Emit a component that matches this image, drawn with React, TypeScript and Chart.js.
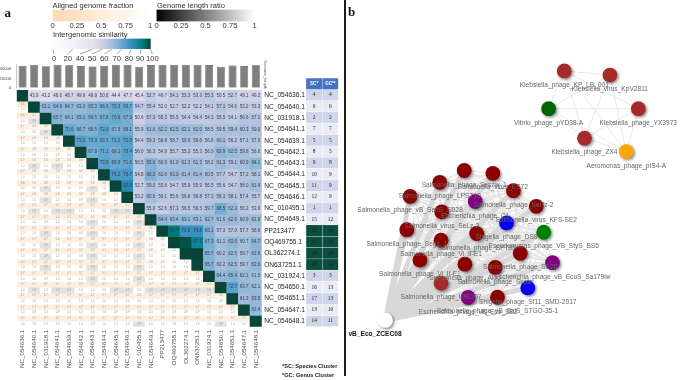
import React, { useEffect, useRef } from "react";
import { Chart, registerables } from "chart.js";

Chart.register(...registerables);

// ---------- DATA ----------
const genomeLabels = ["NC_054636.1","NC_054640.1","NC_031918.1","NC_054641.1","NC_054639.1","NC_054642.1","NC_054643.1","NC_054644.1","NC_054645.1","NC_054646.1","NC_010495.1","NC_054649.1","PP213477","OQ469755.1","OL362274.1","ON637251.1","NC_031924.1","NC_054650.1","NC_054651.1","NC_054647.1","NC_054648.1"];
const rowLabels = genomeLabels;
const genomeLength = [47000,49000,46000,49000,48000,46500,45500,47000,49000,49000,45000,48500,49000,49000,49000,49000,48500,45000,47500,46500,48000];
const speciesCluster = [4,6,2,7,5,8,9,10,11,12,1,15,20,19,18,18,3,16,17,13,14];
const genusCluster = [4,6,2,7,5,5,8,9,9,9,1,12,14,14,14,14,3,13,13,10,11];

// Intergenomic similarity: upper triangle incl. diagonal, one list per row
const similarityRows = [
  [100.0,43.9,43.2,46.6,48.7,49.9,49.9,50.6,44.4,47.7,45.4,52.7,49.7,54.1,53.3,53.3,55.3,50.5,52.7,49.1,49.2],
  [100.0,63.1,64.9,64.7,63.0,65.3,66.6,70.3,69.7,54.7,55.4,52.0,52.7,52.2,52.2,54.1,57.1,54.6,53.2,53.3],
  [100.0,65.7,64.1,65.1,66.5,67.8,70.6,67.9,50.6,57.3,55.3,55.5,54.4,54.4,54.3,55.5,54.1,56.6,57.1],
  [100.0,70.6,66.7,66.5,72.0,67.5,68.1,55.9,61.6,62.3,62.5,62.1,62.0,58.5,59.5,59.4,60.3,59.0],
  [100.0,73.0,70.3,69.5,71.2,72.8,54.4,59.3,58.8,58.7,59.6,59.6,56.8,60.1,56.2,57.1,57.6],
  [100.0,67.8,71.1,68.2,73.4,56.0,56.3,54.9,55.7,55.3,55.3,56.9,63.9,62.5,59.8,56.6],
  [100.0,73.5,69.9,71.6,56.5,65.6,60.9,61.0,61.3,61.3,58.2,61.3,59.1,60.9,64.1],
  [100.0,76.2,76.7,54.8,66.2,61.6,63.0,61.4,61.4,60.5,57.7,54.7,57.2,58.1],
  [100.0,82.8,52.7,59.0,55.6,54.7,55.9,55.9,56.5,55.6,54.7,58.0,61.4],
  [100.0,53.2,60.6,56.1,55.6,56.8,56.8,57.3,58.3,58.1,57.4,55.7],
  [100.0,55.0,52.6,57.3,56.5,56.5,59.7,68.5,62.3,56.2,53.9],
  [100.0,64.4,63.4,63.1,63.1,62.7,61.6,62.6,60.9,61.9],
  [100.0,91.7,79.6,79.6,66.1,57.3,57.0,57.7,58.6],
  [100.0,97.7,87.7,67.3,61.1,63.6,60.7,64.7],
  [100.0,100.0,65.7,60.2,62.5,59.7,63.6],
  [100.0,65.7,60.2,62.5,59.7,63.6],
  [100.0,64.4,65.4,62.1,61.5],
  [100.0,72.7,63.7,62.1],
  [100.0,61.3,63.5],
  [100.0,63.4],
  [100.0],
];

// Aligned genome fraction: lower triangle, rows 2..21
const fractionRows = [
  [0.6],
  [0.6,0.7],
  [0.7,0.8,0.8],
  [0.7,0.8,0.8,0.8],
  [0.7,0.8,0.8,0.8,0.8],
  [0.7,0.8,0.8,0.8,0.8,0.8],
  [0.7,0.8,0.8,0.8,0.8,0.8,0.8],
  [0.6,0.8,0.8,0.8,0.8,0.8,0.8,0.8],
  [0.7,0.8,0.8,0.8,0.8,0.8,0.8,0.8,0.9],
  [0.7,0.7,0.7,0.7,0.7,0.7,0.7,0.7,0.7,0.7],
  [0.7,0.7,0.7,0.8,0.7,0.7,0.8,0.8,0.7,0.7,0.7],
  [0.7,0.7,0.7,0.7,0.7,0.7,0.7,0.7,0.7,0.7,0.7,0.8],
  [0.7,0.7,0.7,0.8,0.7,0.7,0.8,0.7,0.7,0.7,0.7,0.8,0.9],
  [0.7,0.7,0.7,0.7,0.7,0.7,0.7,0.7,0.7,0.7,0.7,0.8,0.9,1.0],
  [0.7,0.7,0.7,0.7,0.7,0.7,0.7,0.7,0.7,0.7,0.7,0.8,0.9,1.0,1.0],
  [0.7,0.7,0.7,0.7,0.7,0.7,0.7,0.7,0.7,0.7,0.7,0.7,0.7,0.7,0.7,0.7],
  [0.7,0.7,0.7,0.7,0.7,0.7,0.7,0.7,0.7,0.7,0.7,0.7,0.7,0.7,0.7,0.7,0.7],
  [0.7,0.7,0.7,0.7,0.7,0.7,0.7,0.7,0.7,0.7,0.7,0.7,0.7,0.7,0.7,0.7,0.7,0.8],
  [0.7,0.7,0.7,0.7,0.7,0.7,0.7,0.7,0.7,0.7,0.7,0.7,0.7,0.7,0.7,0.7,0.7,0.7,0.7],
  [0.7,0.7,0.7,0.7,0.7,0.7,0.7,0.7,0.7,0.7,0.7,0.7,0.7,0.7,0.7,0.7,0.7,0.7,0.7,0.7],
];

// Genome length ratio: lower triangle, rows 2..21
const ratioRows = [
  [.96],
  [.98,.94],
  [.96,1,.94],
  [.98,.98,.96,.98],
  [.99,.95,.99,.95,.97],
  [.97,.93,.99,.93,.95,.98],
  [1,.96,.98,.96,.98,.99,.97],
  [.96,1,.94,1,.98,.95,.93,.96],
  [.96,1,.94,1,.98,.95,.93,.96,1],
  [.96,.92,.98,.92,.94,.97,.99,.96,.92,.92],
  [.97,.99,.95,.99,.99,.96,.94,.97,.99,.99,.93],
  [.96,1,.94,1,.98,.95,.93,.96,1,1,.92,.99],
  [.96,1,.94,1,.98,.95,.93,.96,1,1,.92,.99,1],
  [.96,1,.94,1,.98,.95,.93,.96,1,1,.92,.99,1,1],
  [.96,1,.94,1,.98,.95,.93,.96,1,1,.92,.99,1,1,1],
  [.97,.99,.95,.99,.99,.96,.94,.97,.99,.99,.93,1,.99,.99,.99,.99],
  [.96,.92,.98,.92,.94,.97,.99,.96,.92,.92,1,.93,.92,.92,.92,.92,.93],
  [.99,.97,.97,.97,.99,.98,.96,.99,.97,.97,.95,.98,.97,.97,.97,.97,.98,.95],
  [.99,.95,.99,.95,.97,1,.98,.99,.95,.95,.97,.96,.95,.95,.95,.95,.96,.97,.98],
  [.98,.98,.96,.98,1,.97,.95,.98,.98,.98,.94,.99,.98,.98,.98,.98,.99,.94,.99,.97],
];

const fractionTicks = [0, 0.25, 0.5, 0.75, 1];
const similarityTickLabels = [0, 20, 40, 50, 60, 70, 80, 90, 100];
const lengthTicks = [0, 20000, 40000];

// Network (panel b), node positions read in layout units
const smallNames = ["Klebsiella_phage_KP_LB_001","Klebsiella_virus_KpV2811","Vibrio_phage_pYD38-A","Klebsiella_phage_YX3973","Klebsiella_phage_ZX4","Aeromonas_phage_pIS4-A"];
const smallX = [229.3,276,213.3,305,250,292.7];
const smallY = [66,70.3,105.3,105.3,136,150];
const smallKind = ["k","k","v","k","k","a"];

const bigNames = ["Salmonella_phage_Seszw_1","Salmonella_virus_ES72","Salmonella_phage_LPST10","Salmonella_phage_vB_SenS_SB28","Salmonella_phage_SeHz-2","Salmonella_virus_KFS-SE2","Escherichia_phage_C1","Salmonella_virus_SeLz-2","Shigella_phage_DS8","Pseudomonas_phage_VB_StyS_BS5","Salmonella_phage_Segz_1","Salmonella_phage_Vi_II-E1","Salmonella_phage_BP785","Salmonella_phage_Vi_II-E1","Salmonella_phage_Aloo","Salmonella_phage_SE20","Salmonella_phage_Skate","Escherichia_phage_vB_EcoS_Sa179lw","Salmonella_phage_IME207","Shigella_phage_Sf11_SMD-2017","Salmonella_phage_vB_SalS_STGO-35-1","Escherichia_phage_vB_Eco_SE2"];
const bigX = [127,156.3,102,71.7,177.3,200.7,138.3,104,170.3,208.3,68.3,103.3,139.7,81.7,127.7,184.3,158.7,217.3,103.3,192,161,131];
const bigY = [169.7,172.7,182,196.7,190.7,207,202,212.7,224.3,234,231.3,242.3,235.3,263,267.3,256,270.7,265.7,287,292,301.7,302];
const bigKind = ["s","s","s","s","s","s","p","s","b","g","s","s","s","s","s","s","s","p","k","b","s","p"];

const hubName = "vB_Eco_ZCEC08";
const hubX = 46.3;
const hubY = 325.7;

// ---------- STYLE / LAYOUT ----------
const SANS = "'Liberation Sans', Arial, sans-serif";
const SERIF = "'Liberation Serif', 'Times New Roman', serif";
const W = 685;
const H = 380;
const kindColors: Record<string, string> = { k: "#a52a2a", v: "#006400", a: "#ffa500", s: "#8b0000", p: "#800080", b: "#0000ff", g: "#008000" };

const hex = (h: string) => [1, 3, 5].map((i) => parseInt(h.slice(i, i + 2), 16));
const simStops: [number, string][] = [[0,"#ffffff"],[20,"#f6eff7"],[40,"#e6e0ef"],[50,"#d0d1e6"],[60,"#a9bfdc"],[70,"#67a9cf"],[80,"#3690c0"],[90,"#02818a"],[100,"#014636"]];
function simColor(v: number) {
  for (let i = 1; i < simStops.length; i++) {
    if (v <= simStops[i][0]) {
      const [a, ca] = simStops[i - 1];
      const [b, cb] = simStops[i];
      const t = (v - a) / (b - a);
      const x = hex(ca), y = hex(cb);
      return `rgb(${x.map((q, k) => Math.round(q + (y[k] - q) * t)).join(",")})`;
    }
  }
  return "#014636";
}
const peach = [253, 217, 181];
const afColor = (v: number) => `rgb(${peach.map((q) => Math.round(q + (255 - q) * Math.pow(v, 1.7))).join(",")})`;
const ratioColor = (v: number) => (v <= 0.94 ? "#e2e2e2" : "#ffffff");

// Make a chart area land exactly on a given box: scales take no layout room
// and their labels are allowed to paint outside the (empty) scale box.
const noFit = (s: any) => {
  if (s.isHorizontal()) s.height = 0;
  else s.width = 0;
  s.paddingLeft = s.paddingRight = s.paddingTop = s.paddingBottom = 0;
  s._computeLabelArea = () => undefined;
};
const box = (l: number, t: number, r: number, b: number) => ({ padding: { left: l, top: t, right: W - r, bottom: H - b } });

const heatmapBox = box(16.7, 90, 261.7, 326.7);
const barsBox = box(16.7, 64.4, 261.7, 87.7);
const tableBox = box(306, 78, 338.5, 326.7);
const fractionBox = box(52.5, 9.5, 150, 21.5);
const ratioBox = box(156.5, 9.5, 254.5, 21.5);
const similarityBox = box(53, 38.5, 150.7, 49);
const networkBox = box(340, 0, 685, 380);

const base = {
  responsive: false,
  animation: false as const,
  events: [] as string[],
  plugins: { legend: { display: false }, tooltip: { enabled: false }, title: { display: false } },
};

// ---------- CHART CONFIGS ----------
const n = genomeLabels.length;

function heatmapConfig() {
  const datasets: any[] = [];
  for (let r = 0; r < n; r++) {
    const upper = similarityRows[r];
    datasets.push({
      data: genomeLabels.map((_, c) => (c >= r ? [r, r + 1] : null)),
      backgroundColor: genomeLabels.map((_, c) => (c >= r ? simColor(upper[c - r]) : "#fff")),
    });
    if (r > 0) {
      const af = fractionRows[r - 1];
      const ra = ratioRows[r - 1];
      datasets.push({
        data: genomeLabels.map((_, c) => (c < r ? [r, r + 0.5] : null)),
        backgroundColor: genomeLabels.map((_, c) => (c < r ? afColor(af[c]) : "#fff")),
      });
      datasets.push({
        data: genomeLabels.map((_, c) => (c < r ? [r + 0.5, r + 1] : null)),
        backgroundColor: genomeLabels.map((_, c) => (c < r ? ratioColor(ra[c]) : "#fff")),
      });
    }
  }
  const cellText = {
    id: "cellText",
    afterDatasetsDraw(chart: any) {
      const { ctx, scales } = chart;
      ctx.save();
      ctx.textAlign = "center";
      ctx.textBaseline = "middle";
      for (let r = 0; r < n; r++) {
        ctx.font = `4.5px ${SANS}`;
        ctx.fillStyle = "#3a3a4a";
        similarityRows[r].forEach((v, i) => {
          ctx.fillText(v.toFixed(1), scales.x.getPixelForValue(r + i), scales.y.getPixelForValue(r + 0.5));
        });
        if (r > 0) {
          ctx.font = `2.7px ${SANS}`;
          ctx.fillStyle = "#999";
          fractionRows[r - 1].forEach((v, c) => {
            ctx.fillText(v.toFixed(1), scales.x.getPixelForValue(c), scales.y.getPixelForValue(r + 0.25));
          });
          ratioRows[r - 1].forEach((v, c) => {
            ctx.fillText(v.toFixed(1), scales.x.getPixelForValue(c), scales.y.getPixelForValue(r + 0.75));
          });
        }
      }
      ctx.restore();
    },
  };
  return {
    type: "bar",
    data: { labels: genomeLabels, datasets },
    plugins: [cellText],
    options: {
      ...base,
      layout: heatmapBox,
      datasets: { bar: { grouped: false, barPercentage: 1, categoryPercentage: 1, borderWidth: 0 } },
      scales: {
        x: {
          position: "bottom",
          grid: { display: false, drawTicks: false },
          border: { display: false },
          afterFit: noFit,
          ticks: { autoSkip: false, minRotation: 90, maxRotation: 90, padding: 3, color: "#555", font: { size: 6.2, family: SANS } },
        },
        y: {
          type: "linear",
          position: "right",
          reverse: true,
          min: 0,
          max: n,
          grid: { display: false, drawTicks: false },
          border: { display: false },
          afterFit: noFit,
          afterBuildTicks: (s: any) => { s.ticks = rowLabels.map((_, i) => ({ value: i + 0.5 })); },
          ticks: {
            autoSkip: false,
            padding: 2.5,
            color: "#222",
            font: { size: 6.6, family: SANS },
            callback: (v: number) => rowLabels[Math.round(v - 0.5)],
          },
        },
      },
    },
  };
}

function barsConfig() {
  return {
    type: "bar",
    data: {
      labels: genomeLabels,
      datasets: [{ data: genomeLength, backgroundColor: "#7f7f7f", borderColor: "#4a4a4a", borderWidth: 0.6 }],
    },
    options: {
      ...base,
      layout: barsBox,
      datasets: { bar: { barPercentage: 0.68, categoryPercentage: 1 } },
      scales: {
        x: { display: false, afterFit: noFit },
        y: {
          min: 0,
          max: 50000,
          grid: { display: false, tickLength: 2.5, tickColor: "#777" },
          border: { color: "#888", width: 0.5 },
          afterFit: noFit,
          afterBuildTicks: (s: any) => { s.ticks = lengthTicks.map((value) => ({ value })); },
          ticks: { padding: 3, color: "#444", font: { size: 4.2, family: SANS }, callback: (v: number) => String(v) },
        },
      },
    },
  };
}

function tableConfig() {
  const cols = ["SC*", "GC**"];
  const rowFill = (r: number) => (r % 2 === 0 ? "#cfd5ea" : "#e9ebf5");
  const dark = (r: number) => genusCluster[r] === 14;
  const datasets: any[] = [
    { data: [[-1, 0], [-1, 0]], backgroundColor: "#4472c4" },
    ...speciesCluster.map((_, r) => ({
      data: [[r, r + 1], [r, r + 1]],
      backgroundColor: dark(r) ? "#0b4f3e" : rowFill(r),
    })),
  ];
  const text = {
    id: "tableText",
    afterDatasetsDraw(chart: any) {
      const { ctx, scales } = chart;
      ctx.save();
      ctx.textAlign = "center";
      ctx.textBaseline = "middle";
      cols.forEach((c, i) => {
        ctx.font = `bold 4.6px ${SANS}`;
        ctx.fillStyle = "#fff";
        ctx.fillText(c, scales.x.getPixelForValue(i), scales.y.getPixelForValue(-0.5));
        ctx.font = `5.4px ${SERIF}`;
        ctx.fillStyle = "#222";
        (i === 0 ? speciesCluster : genusCluster).forEach((v, r) => {
          ctx.fillText(String(v), scales.x.getPixelForValue(i), scales.y.getPixelForValue(r + 0.5));
        });
      });
      ctx.restore();
    },
  };
  return {
    type: "bar",
    data: { labels: cols, datasets },
    plugins: [text],
    options: {
      ...base,
      layout: tableBox,
      datasets: { bar: { grouped: false, barPercentage: 1, categoryPercentage: 1, borderWidth: 0.5, borderColor: "#fff" } },
      scales: {
        x: { display: false, afterFit: noFit },
        y: { display: false, type: "linear", reverse: true, min: -1, max: n, afterFit: noFit },
      },
    },
  };
}

function gradientBarConfig(layout: any, stops: [number, string][], ticks: number[] | null, extra: any[] = []) {
  return {
    type: "bar",
    data: {
      labels: [""],
      datasets: [{
        data: [[0, 1]],
        backgroundColor: (c: any) => {
          const a = c.chart.chartArea;
          if (!a) return "#fff";
          const g = c.chart.ctx.createLinearGradient(a.left, 0, a.right, 0);
          stops.forEach(([o, col]) => g.addColorStop(o, col));
          return g;
        },
      }],
    },
    plugins: extra,
    options: {
      ...base,
      indexAxis: "y",
      layout,
      datasets: { bar: { barPercentage: 1, categoryPercentage: 1, borderWidth: 0 } },
      scales: {
        y: { display: false, afterFit: noFit },
        x: {
          type: "linear",
          min: 0,
          max: 1,
          display: !!ticks,
          position: "bottom",
          grid: { display: false, drawTicks: false },
          border: { display: false },
          afterFit: noFit,
          afterBuildTicks: (s: any) => { if (ticks) s.ticks = ticks.map((value) => ({ value })); },
          ticks: { padding: 0, maxRotation: 0, color: "#333", font: { size: 7.6, family: SANS }, callback: (v: number) => String(v) },
        },
      },
    },
  };
}

// Offset of each printed label from its place on the similarity colour bar.
const simLabelOffsets = [1, -4.8, -12, -9.6, -7.3, -4.7, -2.2, -0.9, 1.6];

function similarityConfig() {
  const connectors = {
    id: "simTicks",
    afterDatasetsDraw(chart: any) {
      const { ctx, scales, chartArea } = chart;
      ctx.save();
      ctx.strokeStyle = "#444";
      ctx.lineWidth = 0.5;
      ctx.fillStyle = "#333";
      ctx.font = `7.6px ${SANS}`;
      ctx.textAlign = "center";
      ctx.textBaseline = "middle";
      similarityTickLabels.forEach((t, i) => {
        const bx = scales.x.getPixelForValue(t / 100);
        const lx = bx + simLabelOffsets[i];
        ctx.beginPath();
        ctx.moveTo(bx, chartArea.bottom + 0.5);
        ctx.lineTo(lx, chartArea.bottom + 5);
        ctx.stroke();
        ctx.fillText(String(t), lx, chartArea.bottom + 10);
      });
      ctx.restore();
    },
  };
  const stops = simStops.map(([v, c]) => [v / 100, c] as [number, string]);
  return gradientBarConfig(similarityBox, stops, null, [connectors]);
}

function networkConfig() {
  const pt = (xs: number[], ys: number[], i: number) => ({ x: xs[i], y: ys[i] });
  const smallEdges: any[] = [];
  smallNames.forEach((_, i) => {
    for (let j = i + 1; j < smallNames.length; j++) {
      smallEdges.push(pt(smallX, smallY, i), pt(smallX, smallY, j), { x: NaN, y: NaN });
    }
  });
  const bigEdges: any[] = [];
  bigNames.forEach((_, i) => {
    for (let j = i + 1; j < bigNames.length; j++) {
      bigEdges.push(pt(bigX, bigY, i), pt(bigX, bigY, j), { x: NaN, y: NaN });
    }
  });
  const hubEdges: any[] = [];
  bigNames.forEach((_, i) => {
    hubEdges.push({ x: hubX, y: hubY }, pt(bigX, bigY, i), { x: NaN, y: NaN });
  });
  const line = (data: any[], color: string, w: number) => ({ type: "line", data, borderColor: color, borderWidth: w, pointRadius: 0, spanGaps: false, fill: false, tension: 0 });
  const nodes = (xs: number[], ys: number[], kinds: string[]) => ({
    type: "scatter",
    nodeLayer: true,
    data: xs.map((_, i) => pt(xs, ys, i)),
    backgroundColor: kinds.map((k) => kindColors[k]),
    pointRadius: 7.4,
    borderWidth: 0,
  });
  const nodeShadow = {
    id: "nodeShadow",
    beforeDatasetDraw(chart: any, args: any) {
      if (chart.data.datasets[args.index].nodeLayer) {
        const { ctx } = chart;
        ctx.save();
        ctx.shadowColor = "rgba(0,0,0,0.45)";
        ctx.shadowBlur = 3;
        ctx.shadowOffsetX = 1.5;
        ctx.shadowOffsetY = 1.5;
      }
    },
    afterDatasetDraw(chart: any, args: any) {
      if (chart.data.datasets[args.index].nodeLayer) chart.ctx.restore();
    },
    afterDatasetsDraw(chart: any) {
      const { ctx, scales } = chart;
      ctx.save();
      ctx.textAlign = "center";
      ctx.textBaseline = "middle";
      ctx.font = `6.6px ${SANS}`;
      ctx.fillStyle = "#666";
      const put = (names: string[], xs: number[], ys: number[]) =>
        names.forEach((name, i) => {
          ctx.fillText(name, scales.x.getPixelForValue(xs[i]), scales.y.getPixelForValue(ys[i]) + 14.2);
        });
      put(smallNames, smallX, smallY);
      put(bigNames, bigX, bigY);
      ctx.font = `bold 6.6px ${SANS}`;
      ctx.fillStyle = "#111";
      ctx.fillText(hubName, scales.x.getPixelForValue(hubX) - 10.3, scales.y.getPixelForValue(hubY) + 14.2);
      ctx.restore();
    },
  };
  return {
    type: "scatter",
    data: {
      // Chart.js paints the first dataset last, so nodes come first.
      datasets: [
        { type: "scatter", nodeLayer: true, data: [{ x: hubX, y: hubY }], backgroundColor: "#ffffff", pointRadius: 7.6, borderWidth: 0 },
        nodes(smallX, smallY, smallKind),
        nodes(bigX, bigY, bigKind),
        line(hubEdges, "#d8d8d8", 5),
        line(smallEdges, "#e2e2e2", 0.8),
        line(bigEdges, "#e4e4e4", 1),
      ],
    },
    plugins: [nodeShadow],
    options: {
      ...base,
      layout: networkBox,
      scales: {
        x: { type: "linear", display: false, min: 0, max: 345, afterFit: noFit },
        y: { type: "linear", display: false, min: 0, max: 380, reverse: true, afterFit: noFit },
      },
    },
  };
}

// ---------- COMPONENTS ----------
function Layer({ make }: { make: () => any }) {
  const ref = useRef<HTMLCanvasElement>(null);
  useEffect(() => {
    const chart = new Chart(ref.current as HTMLCanvasElement, make());
    return () => chart.destroy();
  }, [make]);
  return <canvas ref={ref} width={W} height={H} style={{ position: "absolute", left: 0, top: 0, width: W, height: H }} />;
}

function Label({ x, y, size, children, bold, color, family, vertical }: any) {
  return (
    <div
      style={{
        position: "absolute",
        left: x,
        top: y,
        fontSize: size,
        lineHeight: 1,
        whiteSpace: "nowrap",
        fontWeight: bold ? 700 : 400,
        color: color || "#333",
        fontFamily: family || SANS,
        writingMode: vertical ? "vertical-rl" : undefined,
      }}
    >
      {children}
    </div>
  );
}

const makeFraction = () => gradientBarConfig(fractionBox, [[0, "#fdd9b5"], [1, "#ffffff"]], fractionTicks);
const makeRatio = () => gradientBarConfig(ratioBox, [[0, "#000000"], [1, "#ffffff"]], fractionTicks);

export default function App() {
  return (
    <div style={{ position: "fixed", left: 0, top: 0, width: W, height: H, background: "#fff", overflow: "hidden", filter: "blur(0.3px)" }}>
      <Layer make={networkConfig} />
      <Layer make={heatmapConfig} />
      <Layer make={barsConfig} />
      <Layer make={tableConfig} />
      <Layer make={makeFraction} />
      <Layer make={makeRatio} />
      <Layer make={similarityConfig} />
      <Label x={52.5} y={2} size={7.5}>Aligned genome fraction</Label>
      <Label x={157} y={2} size={7.5}>Genome length ratio</Label>
      <Label x={53} y={30.5} size={7.5}>Intergenomic similarity</Label>
      <Label x={263} y={60} size={4.1} color="#555" vertical>Genome_length</Label>
      <Label x={4.5} y={6} size={13} bold color="#111" family={SERIF}>a</Label>
      <Label x={348} y={5} size={13} bold color="#111" family={SERIF}>b</Label>
      <Label x={282} y={363.5} size={5.6} bold color="#222">*SC: Species Cluster</Label>
      <Label x={282} y={372.5} size={5.6} bold color="#222">*GC: Genus Cluster</Label>
      <div style={{ position: "absolute", left: 344, top: 0, width: 2, height: 376, background: "#1c1c1c" }} />
    </div>
  );
}
